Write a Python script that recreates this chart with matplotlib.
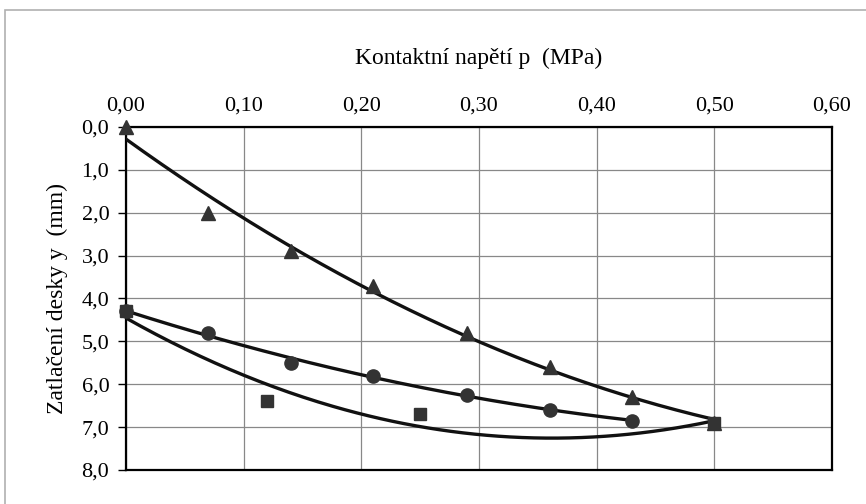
import numpy as np
import matplotlib
matplotlib.use("Agg")
import matplotlib.pyplot as plt
from matplotlib.patches import Rectangle

plt.rcParams['font.family'] = ['Liberation Serif', 'DejaVu Serif']

# Data (p in MPa, y in mm)
tri_p = [0.00, 0.07, 0.14, 0.21, 0.29, 0.36, 0.43, 0.50]
tri_y = [0.0, 2.0, 2.9, 3.7, 4.8, 5.6, 6.3, 6.9]
cir_p = [0.00, 0.07, 0.14, 0.21, 0.29, 0.36, 0.43]
cir_y = [4.3, 4.8, 5.5, 5.8, 6.25, 6.6, 6.85]
sq_p = [0.00, 0.12, 0.25, 0.50]
sq_y = [4.3, 6.4, 6.7, 6.9]

xticks = [0.0, 0.1, 0.2, 0.3, 0.4, 0.5, 0.6]
yticks = [0, 1, 2, 3, 4, 5, 6, 7, 8]

fig = plt.figure(figsize=(8.66, 5.04), dpi=100)
fig.patches.append(Rectangle((0.006, -0.01), 1.0, 0.99, transform=fig.transFigure,
                             fill=False, edgecolor='#b0b0b0', linewidth=1.2))
ax = fig.add_axes([0.1455, 0.0675, 0.8152, 0.6806])

mc = '#333333'
for px, py, mk, ms in [(tri_p, tri_y, '^', 9.5), (cir_p, cir_y, 'o', 9.5), (sq_p, sq_y, 's', 9)]:
    coef = np.polyfit(px, py, 2)
    xs = np.linspace(min(px), max(px), 200)
    ax.plot(xs, np.polyval(coef, xs), color='#111111', linewidth=2.4, zorder=3)
    ax.plot(px, py, linestyle='none', marker=mk, markersize=ms, color=mc,
            markeredgecolor=mc, zorder=4, clip_on=False)

ax.set_xlim(0, 0.6)
ax.set_ylim(8, 0)
ax.set_xticks(xticks)
ax.set_yticks(yticks)
ax.set_xticklabels([f"{v:.2f}".replace('.', ',') for v in xticks])
ax.set_yticklabels([f"{v:.1f}".replace('.', ',') for v in yticks])
ax.xaxis.tick_top()
ax.xaxis.set_label_position('top')
ax.tick_params(axis='x', which='both', length=0, labelsize=16, pad=8)
ax.tick_params(axis='y', which='both', length=6, width=1, direction='out', labelsize=16, pad=6)
ax.grid(True, color='#888888', linewidth=0.9)
ax.set_axisbelow(True)
for s in ax.spines.values():
    s.set_color('black')
    s.set_linewidth(1.6)
ax.set_xlabel('Kontaktní napětí p  (MPa)', fontsize=17, labelpad=24)
ax.set_ylabel('Zatlačení desky y  (mm)', fontsize=17, labelpad=10)

fig.savefig('out.png', dpi=100)
